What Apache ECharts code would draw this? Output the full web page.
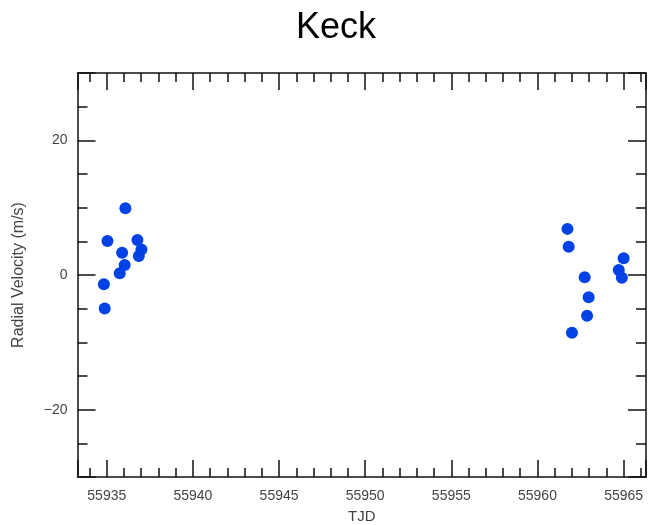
<!DOCTYPE html>
<html>
<head>
<meta charset="utf-8">
<script src="https://cdn.jsdelivr.net/npm/echarts@6/dist/echarts.min.js"></script>
<style>
html,body{margin:0;padding:0;background:#fff;}
#chart{width:650px;height:525px;}
</style>
</head>
<body>
<div id="chart"></div>
<script>
var titleText = 'Keck';
var xName = 'TJD';
var yName = 'Radial Velocity (m/s)';
var tjd = [55936.08, 55935.04, 55936.78, 55937.01, 55936.86, 55935.89, 55936.04, 55935.75, 55934.83, 55934.88,
           55961.74, 55961.81, 55965.00, 55964.72, 55964.90, 55962.74, 55962.97, 55962.88, 55962.00];
var rv = [9.93, 5.06, 5.2, 3.8, 2.83, 3.3, 1.49, 0.25, -1.39, -4.96,
          6.85, 4.2, 2.48, 0.74, -0.4, -0.35, -3.3, -6.05, -8.58];
var xRange = [55933.3, 55966.3];
var yRange = [-30, 30];

var pts = tjd.map(function (t, i) { return [t, rv[i]]; });
var fontFam = '"Liberation Sans", Arial, sans-serif';
var lineStyle = { color: '#111', width: 1.5 };

function xAxisCfg(pos, showLabels) {
  return {
    type: 'value', position: pos, min: xRange[0], max: xRange[1], splitNumber: 5,
    name: showLabels ? xName : '', nameLocation: 'middle', nameGap: 32,
    nameTextStyle: { fontFamily: fontFam, fontSize: 15, color: '#444' },
    axisLine: { show: true, lineStyle: lineStyle, onZero: false },
    axisTick: { show: true, inside: true, length: 17, lineStyle: lineStyle },
    minorTick: { show: true, splitNumber: 5, length: 9, lineStyle: lineStyle },
    axisLabel: { show: showLabels, showMinLabel: false, showMaxLabel: false, margin: 12,
      fontFamily: fontFam, fontSize: 14, color: '#444',
      formatter: function (v) { return String(v); } },
    splitLine: { show: false }, minorSplitLine: { show: false }
  };
}
function yAxisCfg(pos, showLabels) {
  return {
    type: 'value', position: pos, min: yRange[0], max: yRange[1], splitNumber: 3,
    name: showLabels ? yName : '', nameLocation: 'middle', nameGap: 51,
    nameTextStyle: { fontFamily: fontFam, fontSize: 16, color: '#444' },
    axisLine: { show: true, lineStyle: lineStyle, onZero: false },
    axisTick: { show: true, inside: true, length: 18, lineStyle: lineStyle },
    minorTick: { show: true, splitNumber: 4, length: 10, lineStyle: lineStyle },
    axisLabel: { show: showLabels, showMinLabel: false, showMaxLabel: false, margin: 10,
      fontFamily: fontFam, fontSize: 14, color: '#444',
      formatter: function (v) { return String(v).replace('-', '\u2212'); } },
    splitLine: { show: false }, minorSplitLine: { show: false }
  };
}

var chart = echarts.init(document.getElementById('chart'), null, { renderer: 'canvas' });
chart.setOption({
  animation: false,
  backgroundColor: '#fff',
  title: {
    text: titleText, left: 291, top: 5,
    textStyle: { fontFamily: fontFam, fontSize: 36, fontWeight: 'normal', color: '#000' }
  },
  grid: { left: 77.5, right: 4, top: 73, bottom: 48, containLabel: false, outerBoundsMode: 'none' },
  xAxis: [xAxisCfg('bottom', true), xAxisCfg('top', false)],
  yAxis: [yAxisCfg('left', true), yAxisCfg('right', false)],
  series: [{
    type: 'scatter', xAxisIndex: 0, yAxisIndex: 0, data: pts,
    symbol: 'circle', symbolSize: 12,
    itemStyle: { color: '#0042e6', opacity: 1 }
  }]
});
</script>
</body>
</html>
